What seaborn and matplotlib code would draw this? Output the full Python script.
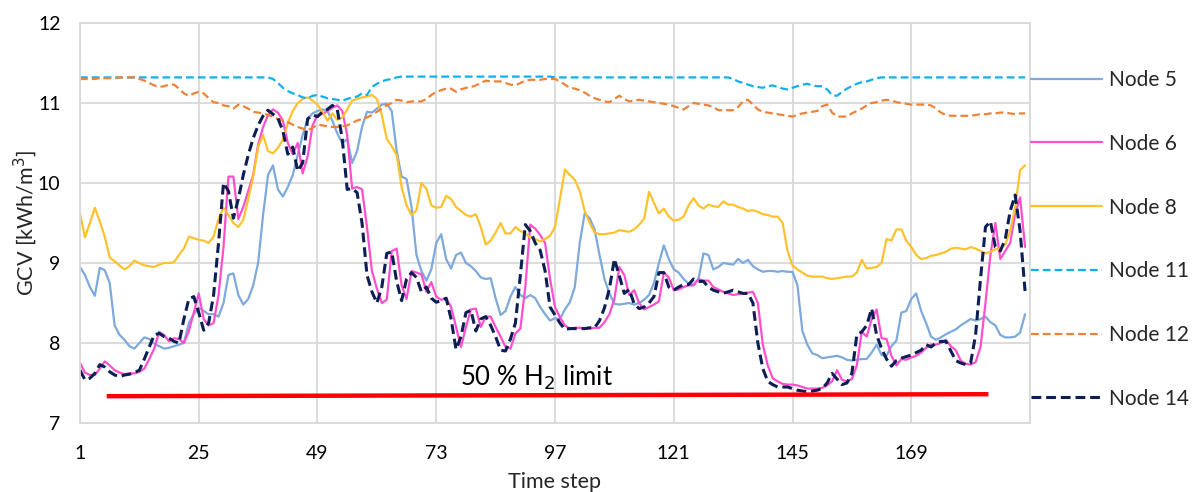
import numpy as np
import pandas as pd
import matplotlib
matplotlib.use("Agg")
import matplotlib.pyplot as plt
import seaborn as sns

# time steps 1..192
steps = np.arange(1, 193)

node5 = [
    8.95, 8.85, 8.70, 8.59, 8.94, 8.91, 8.75, 8.22, 8.10, 8.04, 7.96, 7.93,
    8.00, 8.07, 8.05, 7.99, 7.96, 7.93, 7.94, 7.96, 7.98, 8.00, 8.25, 8.36,
    8.44, 8.40, 8.36, 8.36, 8.33, 8.50, 8.85, 8.87, 8.60, 8.48, 8.55, 8.72,
    9.00, 9.60, 10.10, 10.22, 9.92, 9.83, 9.95, 10.10, 10.35, 10.60, 10.80, 10.87,
    10.90, 10.92, 10.90, 10.78, 10.62, 10.50, 10.55, 10.25, 10.40, 10.70, 10.89, 10.88,
    10.93, 10.98, 10.99, 10.90, 10.40, 10.08, 10.05, 9.70, 9.10, 8.90, 8.78, 8.92,
    9.25, 9.36, 9.05, 8.93, 9.10, 9.13, 9.00, 8.96, 8.90, 8.82, 8.80, 8.81,
    8.56, 8.35, 8.40, 8.58, 8.70, 8.60, 8.56, 8.60, 8.56, 8.45, 8.36, 8.28,
    8.31, 8.30, 8.42, 8.51, 8.70, 9.25, 9.62, 9.56, 9.42, 9.10, 8.80, 8.62,
    8.49, 8.48, 8.49, 8.50, 8.48, 8.50, 8.54, 8.60, 8.75, 9.00, 9.22, 9.05,
    8.92, 8.88, 8.80, 8.74, 8.73, 8.80, 9.12, 9.10, 8.92, 8.95, 9.00, 8.99,
    8.98, 9.05, 9.00, 9.04, 8.96, 8.92, 8.89, 8.90, 8.90, 8.89, 8.90, 8.89,
    8.89, 8.72, 8.15, 7.98, 7.87, 7.85, 7.81, 7.82, 7.83, 7.84, 7.82, 7.79,
    7.78, 7.79, 7.80, 7.80, 7.88, 7.98, 7.85, 7.84, 7.96, 8.03, 8.38, 8.40,
    8.55, 8.62, 8.40, 8.25, 8.08, 8.04, 8.07, 8.11, 8.14, 8.17, 8.22, 8.26,
    8.30, 8.28, 8.30, 8.33, 8.26, 8.22, 8.10, 8.07, 8.07, 8.08, 8.13, 8.36,
]

node6 = [
    7.75, 7.63, 7.60, 7.60, 7.68, 7.77, 7.72, 7.66, 7.63, 7.61, 7.62, 7.62,
    7.64, 7.68, 7.80, 7.93, 8.14, 8.10, 8.02, 8.06, 8.05, 8.00, 8.15, 8.38,
    8.62, 8.30, 8.22, 8.25, 8.60, 9.20, 10.08, 10.08, 9.55, 9.70, 9.90, 10.10,
    10.48, 10.70, 10.85, 10.92, 10.88, 10.78, 10.50, 10.36, 10.50, 10.12, 10.33, 10.72,
    10.85, 10.86, 10.90, 10.94, 10.97, 10.90, 10.60, 9.93, 9.95, 9.92, 9.45, 8.90,
    8.68, 8.50, 8.54, 9.15, 9.18, 8.72, 8.55, 8.90, 8.88, 8.86, 8.64, 8.76,
    8.58, 8.54, 8.56, 8.45, 8.20, 7.95, 8.20, 8.42, 8.43, 8.20, 8.33, 8.33,
    8.20, 8.08, 7.95, 7.93, 8.12, 8.18, 8.70, 9.48, 9.43, 9.35, 9.25, 8.80,
    8.45, 8.32, 8.22, 8.18, 8.19, 8.19, 8.18, 8.18, 8.19, 8.19, 8.26, 8.36,
    8.55, 8.95, 8.85, 8.60, 8.66, 8.50, 8.42, 8.45, 8.48, 8.52, 8.88, 8.82,
    8.66, 8.67, 8.70, 8.72, 8.72, 8.80, 8.78, 8.78, 8.70, 8.67, 8.64, 8.62,
    8.60, 8.61, 8.62, 8.63, 8.64, 8.50, 7.98, 7.72, 7.56, 7.52, 7.49, 7.48,
    7.48, 7.47, 7.45, 7.43, 7.43, 7.43, 7.44, 7.47, 7.52, 7.66, 7.54, 7.52,
    7.55, 7.72, 8.14, 8.08, 8.30, 8.42, 8.06, 8.05, 7.84, 7.72, 7.80, 7.79,
    7.82, 7.84, 7.88, 7.94, 7.98, 7.98, 8.00, 8.04, 7.96, 7.91, 7.78, 7.74,
    7.73, 7.76, 7.95, 8.50, 9.10, 9.50, 9.05, 9.15, 9.25, 9.62, 9.82, 9.20,
]

node8 = [
    9.62, 9.32, 9.50, 9.69, 9.52, 9.33, 9.07, 9.02, 8.97, 8.92, 8.96, 9.03,
    9.00, 8.97, 8.96, 8.95, 8.98, 9.00, 9.00, 9.01, 9.10, 9.18, 9.33, 9.31,
    9.29, 9.28, 9.25, 9.33, 9.55, 9.69, 9.60, 9.50, 9.45, 9.54, 9.80, 10.08,
    10.45, 10.60, 10.40, 10.37, 10.44, 10.54, 10.75, 10.90, 11.00, 11.05, 11.07, 11.03,
    10.98, 10.89, 10.78, 10.87, 10.79, 10.82, 10.92, 11.03, 11.05, 11.07, 11.08, 11.10,
    11.05, 10.85, 10.55, 10.46, 10.35, 9.95, 9.72, 9.60, 9.66, 10.00, 9.93, 9.72,
    9.69, 9.70, 9.84, 9.80, 9.70, 9.65, 9.60, 9.58, 9.61, 9.45, 9.23, 9.28,
    9.38, 9.50, 9.37, 9.37, 9.45, 9.40, 9.37, 9.32, 9.30, 9.27, 9.30, 9.34,
    9.45, 9.80, 10.17, 10.10, 10.04, 9.90, 9.65, 9.50, 9.38, 9.36, 9.36, 9.37,
    9.38, 9.41, 9.40, 9.39, 9.42, 9.48, 9.55, 9.89, 9.75, 9.62, 9.68, 9.58,
    9.53, 9.54, 9.58, 9.72, 9.81, 9.72, 9.68, 9.73, 9.71, 9.70, 9.77, 9.73,
    9.73, 9.70, 9.68, 9.65, 9.66, 9.64, 9.61, 9.60, 9.58, 9.58, 9.50, 9.15,
    8.97, 8.92, 8.88, 8.84, 8.83, 8.83, 8.83, 8.81, 8.80, 8.81, 8.82, 8.83,
    8.83, 8.88, 9.04, 8.93, 8.94, 8.95, 9.00, 9.30, 9.28, 9.42, 9.42, 9.28,
    9.20, 9.10, 9.05, 9.06, 9.09, 9.10, 9.12, 9.14, 9.18, 9.19, 9.18, 9.17,
    9.20, 9.18, 9.15, 9.12, 9.14, 9.17, 9.18, 9.23, 9.40, 9.70, 10.16, 10.22,
]

node11 = [
    11.32, 11.32, 11.32, 11.32, 11.32, 11.32, 11.32, 11.32, 11.32, 11.32, 11.32, 11.32,
    11.32, 11.32, 11.32, 11.32, 11.32, 11.32, 11.32, 11.32, 11.32, 11.32, 11.32, 11.32,
    11.32, 11.32, 11.32, 11.32, 11.32, 11.32, 11.32, 11.32, 11.32, 11.32, 11.32, 11.32,
    11.32, 11.32, 11.32, 11.30, 11.25, 11.19, 11.15, 11.12, 11.10, 11.07, 11.06, 11.09,
    11.10, 11.08, 11.06, 11.05, 11.04, 11.03, 11.05, 11.07, 11.08, 11.12, 11.10, 11.20,
    11.24, 11.27, 11.29, 11.30, 11.32, 11.33, 11.33, 11.33, 11.33, 11.33, 11.33, 11.33,
    11.33, 11.33, 11.33, 11.33, 11.33, 11.33, 11.33, 11.33, 11.33, 11.33, 11.33, 11.33,
    11.33, 11.33, 11.33, 11.33, 11.33, 11.33, 11.33, 11.33, 11.33, 11.33, 11.33, 11.33,
    11.32, 11.32, 11.32, 11.32, 11.32, 11.32, 11.32, 11.32, 11.32, 11.32, 11.32, 11.32,
    11.32, 11.32, 11.32, 11.32, 11.32, 11.32, 11.32, 11.32, 11.32, 11.32, 11.32, 11.32,
    11.32, 11.32, 11.32, 11.32, 11.32, 11.32, 11.32, 11.32, 11.32, 11.32, 11.32, 11.32,
    11.30, 11.27, 11.25, 11.23, 11.21, 11.20, 11.19, 11.21, 11.22, 11.20, 11.18, 11.17,
    11.19, 11.21, 11.23, 11.24, 11.22, 11.21, 11.21, 11.17, 11.10, 11.09, 11.14, 11.18,
    11.21, 11.24, 11.26, 11.27, 11.29, 11.31, 11.32, 11.32, 11.32, 11.32, 11.32, 11.32,
    11.32, 11.32, 11.32, 11.32, 11.32, 11.32, 11.32, 11.32, 11.32, 11.32, 11.32, 11.32,
    11.32, 11.32, 11.32, 11.32, 11.32, 11.32, 11.32, 11.32, 11.32, 11.32, 11.32, 11.32,
]

node12 = [
    11.30, 11.30, 11.30, 11.30, 11.31, 11.31, 11.31, 11.31, 11.32, 11.32, 11.32, 11.32,
    11.30, 11.28, 11.25, 11.22, 11.20, 11.21, 11.23, 11.23, 11.18, 11.12, 11.09, 11.12,
    11.14, 11.12, 11.06, 11.01, 11.00, 10.97, 10.96, 10.93, 10.98, 10.96, 10.93, 10.89,
    10.88, 10.87, 10.85, 10.83, 10.80, 10.78, 10.76, 10.73, 10.70, 10.68, 10.66, 10.69,
    10.73, 10.72, 10.71, 10.70, 10.70, 10.71, 10.72, 10.75, 10.78, 10.80, 10.82, 10.85,
    10.89, 10.93, 10.97, 11.00, 11.04, 11.03, 11.01, 11.02, 11.02, 11.02, 11.05, 11.10,
    11.14, 11.16, 11.18, 11.18, 11.14, 11.17, 11.19, 11.20, 11.22, 11.25, 11.28, 11.27,
    11.27, 11.27, 11.25, 11.23, 11.22, 11.25, 11.28, 11.29, 11.29, 11.29, 11.30, 11.30,
    11.30, 11.27, 11.23, 11.19, 11.18, 11.16, 11.13, 11.09, 11.06, 11.04, 11.02, 11.01,
    11.05, 11.09, 11.05, 11.02, 11.03, 11.04, 11.03, 11.02, 11.01, 11.00, 10.99, 10.98,
    10.96, 10.94, 10.92, 10.96, 11.00, 10.99, 10.98, 10.97, 10.95, 10.91, 10.91, 10.91,
    10.91, 10.95, 11.02, 11.04, 10.98, 10.92, 10.89, 10.88, 10.87, 10.86, 10.85, 10.84,
    10.83, 10.85, 10.87, 10.88, 10.89, 10.90, 10.96, 10.98, 10.88, 10.83, 10.83, 10.83,
    10.87, 10.90, 10.93, 10.97, 11.00, 11.01, 11.03, 11.04, 11.03, 11.01, 11.00, 10.99,
    10.98, 10.98, 10.98, 10.98, 10.97, 10.93, 10.88, 10.85, 10.84, 10.84, 10.84, 10.84,
    10.84, 10.85, 10.86, 10.86, 10.87, 10.87, 10.88, 10.88, 10.87, 10.86, 10.87, 10.87,
]

node14 = [
    7.66, 7.54, 7.56, 7.62, 7.73, 7.70, 7.64, 7.60, 7.58, 7.60, 7.61, 7.63,
    7.66, 7.80, 7.95, 8.10, 8.12, 8.08, 8.06, 8.02, 8.00, 8.30, 8.55, 8.58,
    8.38, 8.16, 8.25, 8.60, 9.25, 10.00, 9.90, 9.56, 9.80, 10.10, 10.35, 10.56,
    10.72, 10.84, 10.91, 10.86, 10.81, 10.65, 10.36, 10.45, 10.15, 10.25, 10.80, 10.85,
    10.83, 10.89, 10.92, 10.97, 10.92, 10.55, 9.92, 9.93, 9.88, 9.50, 8.85, 8.64,
    8.50, 8.70, 9.12, 9.14, 8.77, 8.53, 8.80, 8.88, 8.82, 8.64, 8.70, 8.56,
    8.51, 8.53, 8.56, 8.30, 7.92, 8.08, 8.38, 8.41, 8.15, 8.30, 8.33, 8.22,
    8.08, 7.91, 7.90, 8.05, 8.25, 8.85, 9.48, 9.40, 9.25, 9.16, 8.90, 8.45,
    8.35, 8.25, 8.17, 8.18, 8.18, 8.18, 8.18, 8.19, 8.19, 8.28, 8.44, 8.68,
    9.05, 8.84, 8.62, 8.67, 8.49, 8.43, 8.45, 8.50, 8.58, 8.88, 8.88, 8.70,
    8.66, 8.70, 8.73, 8.73, 8.80, 8.77, 8.77, 8.70, 8.66, 8.64, 8.62, 8.64,
    8.66, 8.64, 8.62, 8.62, 8.50, 8.00, 7.68, 7.52, 7.48, 7.45, 7.45, 7.45,
    7.43, 7.41, 7.40, 7.39, 7.40, 7.41, 7.43, 7.50, 7.62, 7.55, 7.48, 7.50,
    7.62, 8.10, 8.14, 8.22, 8.43, 8.10, 7.93, 7.80, 7.71, 7.78, 7.81, 7.83,
    7.85, 7.88, 7.91, 7.98, 7.95, 8.00, 8.02, 8.02, 7.90, 7.78, 7.75, 7.73,
    7.75, 8.10, 8.80, 9.45, 9.52, 9.20, 9.15, 9.30, 9.65, 9.85, 9.40, 8.65,
]

# 50 % H2 limit line end points
limit_x = [6.4, 184.6]
limit_y = [7.335, 7.36]

x_ticks = [1, 25, 49, 73, 97, 121, 145, 169, 193]
x_tick_labels = ["1", "25", "49", "73", "97", "121", "145", "169", ""]

series = [
    ("Node 5", node5, "#7DA9DC", "-"),
    ("Node 6", node6, "#FF4FCF", "-"),
    ("Node 8", node8, "#FFC22E", "-"),
    ("Node 11", node11, "#10B0EE", (0, (3.5, 1.8))),
    ("Node 12", node12, "#EE8238", (0, (3.5, 1.8))),
    ("Node 14", node14, "#0C1F55", (0, (3.2, 1.6))),
]

sns.set_theme(style="white")
plt.rcParams["font.family"] = ["Lato", "DejaVu Sans"]

fig = plt.figure(figsize=(11.92, 4.92), dpi=100)
ax = fig.add_axes([80 / 1192, 1 - 423 / 492, 950 / 1192, 400 / 492])

for name, vals, color, ls in series:
    lw = 2.2 if name == "Node 14" else 1.6
    sns.lineplot(x=steps, y=vals, ax=ax, color=color, linestyle=ls,
                 linewidth=lw, label=name)

ax.plot(limit_x, limit_y, color="#FF0000", linewidth=3.2, solid_capstyle="butt")
ax.text(93.2, 7.56, "50 % H$_2$ limit", fontsize=18.5, ha="center", va="center",
        color="black")

ax.set_xlim(1, 193)
ax.set_ylim(7, 12)
ax.set_xticks(x_ticks)
ax.set_xticklabels(x_tick_labels)
ax.set_yticks([7, 8, 9, 10, 11, 12])
ax.grid(True, color="#D9D9D9", linewidth=1.3)
ax.set_axisbelow(True)
for sp in ax.spines.values():
    sp.set_color("#D9D9D9")
    sp.set_linewidth(1.3)
ax.tick_params(axis="both", length=0, labelsize=14, colors="black")
ax.tick_params(axis="y", pad=14)
ax.tick_params(axis="x", pad=16)

ax.set_xlabel("Time step", fontsize=15.5, labelpad=7)
ax.set_ylabel("GCV [kWh/m$^3$]", fontsize=15.5, labelpad=-1)

ax.legend(loc="upper left", bbox_to_anchor=(1031 / 1192, 1 - 70 / 492),
          bbox_transform=fig.transFigure, frameon=False, fontsize=15,
          handlelength=3.4, handletextpad=0.35, labelspacing=2.1,
          borderpad=0, borderaxespad=0)

fig.savefig("out.png", dpi=100)
